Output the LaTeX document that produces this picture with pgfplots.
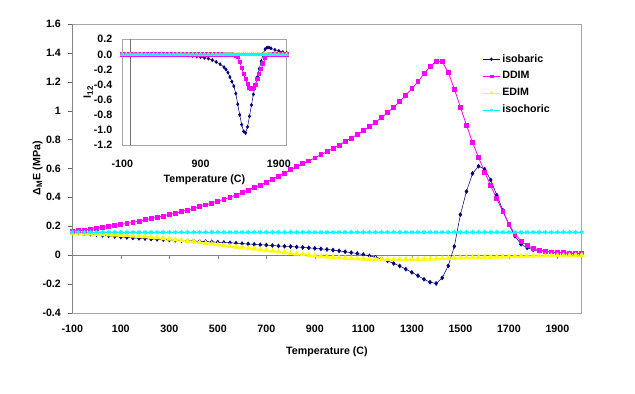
\documentclass[border=0pt]{standalone}
\usepackage{pgfplots}
\pgfplotsset{compat=1.18}
\usepackage{pgfplotstable}
\usepackage{fontspec}
\setmainfont{Liberation Sans}

\definecolor{navy}{RGB}{0,0,128}
\definecolor{mag}{RGB}{255,0,255}
\definecolor{yel}{RGB}{255,255,0}
\definecolor{cya}{RGB}{0,255,255}
\definecolor{frame}{RGB}{165,165,165}

% main chart: T, isobaric, DDIM, EDIM, isochoric
\pgfplotstableread{
T     iso     ddim   edim    isoc
-100  0.155   0.165  0.150   0.158
-75   0.152   0.168  0.149   0.158
-50   0.148   0.172  0.147   0.158
-25   0.145   0.178  0.146   0.158
0     0.141   0.185  0.144   0.158
25    0.137   0.192  0.143   0.158
50    0.133   0.199  0.141   0.158
75    0.129   0.206  0.140   0.158
100   0.125   0.213  0.138   0.158
125   0.122   0.219  0.136   0.158
150   0.119   0.227  0.133   0.158
175   0.116   0.235  0.130   0.158
200   0.114   0.244  0.127   0.158
225   0.111   0.253  0.124   0.158
250   0.109   0.262  0.120   0.158
275   0.107   0.270  0.116   0.158
300   0.105   0.280  0.112   0.158
325   0.103   0.290  0.107   0.158
350   0.101   0.301  0.102   0.158
375   0.099   0.312  0.097   0.158
400   0.097   0.323  0.092   0.158
425   0.095   0.334  0.087   0.158
450   0.093   0.347  0.082   0.158
475   0.091   0.360  0.077   0.158
500   0.089   0.374  0.072   0.158
525   0.087   0.386  0.067   0.158
550   0.085   0.400  0.062   0.158
575   0.082   0.415  0.057   0.158
600   0.079   0.431  0.052   0.158
625   0.077   0.449  0.047   0.158
650   0.074   0.467  0.043   0.158
675   0.071   0.485  0.038   0.158
700   0.069   0.505  0.033   0.158
725   0.066   0.525  0.028   0.158
750   0.063   0.546  0.023   0.158
775   0.061   0.568  0.018   0.158
800   0.059   0.591  0.013   0.158
825   0.056   0.612  0.008   0.158
850   0.053   0.632  0.004   0.158
875   0.050   0.652  0.000   0.158
900   0.046   0.673  -0.005  0.158
925   0.043   0.694  -0.009  0.158
950   0.039   0.716  -0.012  0.158
975   0.034   0.739  -0.015  0.158
1000  0.029   0.762  -0.018  0.158
1025  0.023   0.786  -0.021  0.158
1050  0.017   0.810  -0.023  0.158
1075  0.010   0.835  -0.025  0.158
1100  0.003   0.861  -0.027  0.158
1125  -0.006  0.890  -0.028  0.158
1150  -0.015  0.920  -0.029  0.158
1175  -0.026  0.952  -0.030  0.158
1200  -0.041  0.988  -0.030  0.158
1225  -0.058  1.024  -0.031  0.158
1250  -0.076  1.063  -0.031  0.158
1275  -0.098  1.108  -0.030  0.158
1300  -0.120  1.152  -0.030  0.158
1325  -0.143  1.200  -0.029  0.158
1350  -0.168  1.255  -0.028  0.158
1375  -0.188  1.305  -0.027  0.158
1400  -0.197  1.343  -0.026  0.158
1425  -0.158  1.340  -0.024  0.158
1450  -0.075  1.265  -0.022  0.158
1475  0.060   1.150  -0.020  0.158
1500  0.280   1.025  -0.019  0.158
1525  0.440   0.900  -0.018  0.158
1550  0.565   0.780  -0.017  0.158
1575  0.615   0.675  -0.016  0.158
1600  0.595   0.575  -0.015  0.158
1625  0.520   0.480  -0.014  0.158
1650  0.415   0.390  -0.013  0.158
1675  0.310   0.300  -0.012  0.158
1700  0.210   0.215  -0.011  0.158
1725  0.130   0.145  -0.010  0.158
1750  0.075   0.095  -0.009  0.158
1775  0.050   0.065  -0.008  0.158
1800  0.037   0.046  -0.007  0.158
1825  0.030   0.035  -0.006  0.158
1850  0.024   0.028  -0.005  0.158
1875  0.020   0.022  -0.004  0.158
1900  0.016   0.018  -0.003  0.158
1925  0.014   0.016  -0.002  0.158
1950  0.012   0.014  -0.001  0.158
1975  0.011   0.013  0.000   0.158
2000  0.010   0.012  0.000   0.158
}\maindata

% inset: I12
\pgfplotstableread{
T     iso     ddim    edim  isoc
-100  0.000   0.000   0     0
-50   0.000   0.000   0     0
0     0.000   0.000   0     0
50    0.000   0.000   0     0
100   0.000   0.000   0     0
150   0.000   0.000   0     0
200   -0.001  0.000   0     0
250   -0.001  0.000   0     0
300   -0.002  0.000   0     0
350   -0.002  0.000   0     0
400   -0.003  0.000   0     0
450   -0.004  0.000   0     0
500   -0.005  0.000   0     0
550   -0.006  0.000   0     0
600   -0.008  0.000   0     0
650   -0.010  0.000   0     0
700   -0.012  0.000   0     0
750   -0.015  0.000   0     0
800   -0.020  0.000   0     0
850   -0.027  0.000   0     0
900   -0.035  0.000   0     0
950   -0.045  0.000   0     0
1000  -0.055  0.000   0     0
1050  -0.075  0.000   0     0
1100  -0.100  0.000   0     0
1150  -0.130  0.000   0     0
1200  -0.170  0.000   0     0
1225  -0.200  0.000   0     0
1250  -0.240  0.000   0     0
1275  -0.300  0.000   0     0
1300  -0.360  0.000   0     0
1325  -0.420  -0.005  0     0
1350  -0.520  -0.015  0     0
1375  -0.660  -0.030  0     0
1400  -0.800  -0.100  0     0
1425  -0.930  -0.180  0     0
1450  -1.020  -0.260  0     0
1475  -1.040  -0.330  0     0
1500  -0.960  -0.390  0     0
1525  -0.820  -0.440  0     0
1550  -0.670  -0.460  0     0
1575  -0.530  -0.440  0     0
1600  -0.410  -0.400  0     0
1625  -0.300  -0.330  0     0
1650  -0.190  -0.260  0     0
1675  -0.090  -0.190  0     0
1700  0.010   -0.120  0     0
1725  0.070   -0.050  0     0
1750  0.090   -0.010  0     0
1775  0.090   0.000   0     0
1800  0.080   0.000   0     0
1850  0.060   0.000   0     0
1900  0.045   0.000   0     0
1950  0.030   0.000   0     0
2000  0.020   0.000   0     0
}\insetdata

\tikzset{txt/.style={font=\fontsize{8}{9.6}\selectfont\bfseries}}
\pgfplotsset{
  isob/.style={navy, line width=0.4pt, mark=diamond*, mark size=1.5pt, mark options={fill=navy}},
  ddims/.style={mag, line width=0.6pt, mark=square*, mark size=1.45pt, mark options={fill=mag}},
  edims/.style={yel, line width=0.8pt, mark=triangle*, mark size=1.8pt, mark options={fill=yel}},
  isocs/.style={cya, line width=0.8pt, mark=asterisk, mark size=1.7pt},
}

\begin{document}
\begin{tikzpicture}
\useasboundingbox (0,0) rectangle (476.25pt,294.75pt);

\begin{axis}[
  at={(54.2pt,60.15pt)}, anchor=south west, scale only axis,
  width=382.05pt, height=216.6pt,
  xmin=-100, xmax=2000, ymin=-0.4, ymax=1.6,
  xtick={-100,100,...,1900},
  ytick={-0.4,-0.2,0,0.2,0.4,0.6,0.8,1,1.2,1.4,1.6},
  xtick pos=bottom, ytick pos=left,
  major x tick style={draw=none},
  ytick align=outside, major tick length=3pt,
  tick style={black!60},
  axis line style={frame},
  /pgf/number format/assume math mode=true,
  /pgf/number format/1000 sep={},
  tick label style={txt},
  label style={txt},
  xticklabel shift=6pt,
  yticklabel shift=2pt,
  xlabel={Temperature (C)},
  ylabel={Δ\textsubscript{M}E (MPa)},
  xlabel style={at={(axis description cs:0.5,0)}, anchor=center, yshift=-29pt},
  ylabel style={at={(axis description cs:-0.068,0.5)}, anchor=center},
  legend style={draw=none, fill=none, at={(rel axis cs:0.805,0.903)}, anchor=north west,
    txt, row sep=2.4pt, inner sep=0pt, nodes={inner sep=1.6pt}},
  legend cell align=left,
  legend image code/.code={\draw[mark repeat=2,mark phase=2,#1,line width=0.4pt,mark size=1.1pt] plot coordinates {(0pt,0pt) (6.4pt,0pt) (12.8pt,0pt)};},
]
\draw[black!55] (rel axis cs:0,0) -- (rel axis cs:0,1);
\draw[black!50] (axis cs:-100,0) -- (axis cs:2000,0);
\pgfplotsinvokeforeach{100,300,500,700,900,1100,1300,1500,1700,1900}{
  \draw[black!50] (axis cs:#1,0) -- ([yshift=-3pt]axis cs:#1,0);
}

\addplot[isob] table[x=T, y=iso] {\maindata};
\addlegendentry{isobaric}
\addplot[ddims] table[x=T, y=ddim] {\maindata};
\addlegendentry{DDIM}
\addplot[edims] table[x=T, y=edim] {\maindata};
\addlegendentry{EDIM}
\addplot[isocs] table[x=T, y=isoc] {\maindata};
\addlegendentry{isochoric}
\end{axis}

\begin{axis}[
  at={(91.7pt,186pt)}, anchor=south west, scale only axis,
  width=123.3pt, height=79.3pt,
  xmin=-100, xmax=2000, ymin=-1.2, ymax=0.2,
  xtick={-100,900,1900},
  ytick={-1.2,-1.0,-0.8,-0.6,-0.4,-0.2,0,0.2},
  yticklabel style={/pgf/number format/.cd, fixed, fixed zerofill, precision=1},
  tick style={draw=none},
  axis line style={frame},
  axis background/.style={fill=white},
  /pgf/number format/assume math mode=true,
  /pgf/number format/1000 sep={},
  tick label style={txt},
  label style={txt},
  xticklabel shift=8pt,
  yticklabel shift=4pt,
  xlabel={Temperature (C)},
  ylabel={I\textsubscript{12}},
  xlabel style={at={(axis description cs:0.5,0)}, anchor=center, yshift=-26pt},
  ylabel style={at={(axis description cs:-0.207,0.5)}, anchor=center},
]
\draw[black!55] (axis cs:0,-1.2) -- (axis cs:0,0.2);
\draw[black!50] (axis cs:-100,0) -- (axis cs:2000,0);
\draw[black!70] (axis cs:900,0) -- ([yshift=-2pt]axis cs:900,0);
\draw[black!70] (axis cs:1900,0) -- ([yshift=-2pt]axis cs:1900,0);

\addplot[isob, mark size=1.2pt] table[x=T, y=iso] {\insetdata};
\addplot[ddims, mark size=1.2pt] table[x=T, y=ddim] {\insetdata};
\addplot[edims, mark size=1.2pt] table[x=T, y=edim] {\insetdata};
\addplot[isocs, mark size=1.3pt] table[x=T, y=isoc] {\insetdata};
\end{axis}
\end{tikzpicture}
\end{document}
